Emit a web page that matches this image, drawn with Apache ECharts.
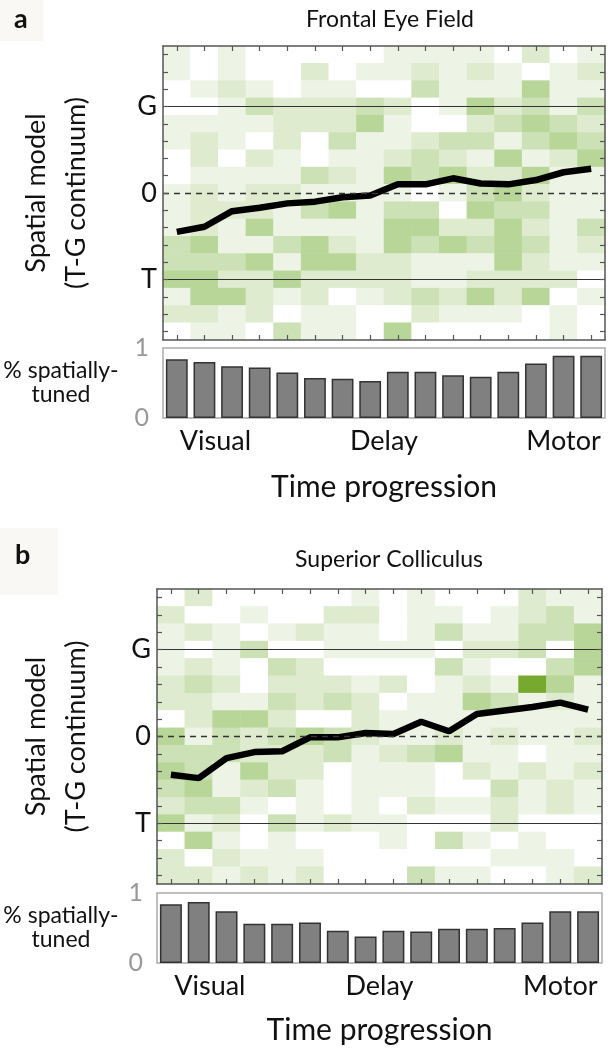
<!DOCTYPE html>
<html><head><meta charset="utf-8">
<script src="https://cdn.jsdelivr.net/npm/echarts@6/dist/echarts.min.js"></script>
<style>html,body{margin:0;padding:0;background:#fff}#c{width:608px;height:1048px}</style>
</head><body><div id="c"></div>
<script>
// ---------- data ----------
const timeBins = ['1','2','3','4','5','6','7','8','9','10','11','12','13','14','15','16'];
// model rows, bottom (near T side) to top (G side); G = 1, 0 = 0, T = -1
const rowValues = ['-1.6','-1.4','-1.2','-1.0','-0.8','-0.6','-0.4','-0.2','0.0','0.2','0.4','0.6','0.8','1.0','1.2','1.4','1.6'];
const rowTickLabels = { '1.0': 'G', '0.0': '0', '-1.0': 'T' };
const phaseLabels = ['Visual', 'Delay', 'Motor'];
const phasePositions = [1.9, 8, 14.5];
const panelTitles = ['Frontal Eye Field', 'Superior Colliculus'];
const panelLetters = ['a', 'b'];

// heatmap intensities (0 = white ... 6 = darkest green), rows listed from TOP to BOTTOM
const heatA = [
  [1,0,1,0,0,0,0,0, 1,1,1,1,0,2,0,1],
  [1,0,1,0,0,2,0,1, 1,2,1,2,1,0,1,2],
  [0,1,2,1,0,1,1,0, 0,3,1,1,1,4,1,1],
  [0,0,1,3,2,2,2,3, 2,0,1,4,2,3,1,3],
  [1,1,1,1,2,2,2,4, 1,0,0,2,3,4,3,2],
  [1,2,1,0,2,0,3,1, 1,2,3,3,1,3,4,3],
  [0,2,0,2,1,0,1,1, 2,3,2,1,4,1,2,4],
  [0,1,1,1,1,3,2,1, 4,3,4,2,2,4,1,1],
  [1,2,1,2,2,1,1,1, 1,0,1,3,4,2,1,1],
  [1,2,2,2,1,3,4,1, 3,3,0,4,3,3,1,1],
  [1,2,1,4,1,1,1,1, 4,4,2,2,4,2,1,3],
  [3,4,1,1,3,4,2,1, 4,3,4,3,4,3,1,2],
  [3,3,3,4,1,4,4,2, 2,1,1,1,4,2,1,1],
  [4,4,2,2,4,2,2,2, 2,1,1,2,2,2,2,0],
  [1,4,4,2,1,2,0,1, 2,3,2,4,2,4,0,1],
  [2,2,1,2,0,1,1,0, 0,2,1,1,1,0,1,0],
  [0,1,1,0,3,1,1,0, 4,0,0,0,0,0,1,0]
];
const heatB = [
  [0,2,0,0,0,0,0,1, 0,1,0,0,0,2,1,1],
  [2,0,0,1,0,0,2,2, 0,1,1,0,1,2,3,1],
  [1,2,1,0,1,2,1,1, 0,1,3,1,1,3,3,4],
  [1,0,1,3,0,0,1,1, 1,1,0,2,2,3,0,4],
  [1,2,1,0,3,2,0,0, 0,0,3,1,0,0,3,4],
  [2,3,2,0,2,2,2,1, 2,0,1,2,1,6,4,1],
  [2,2,1,1,3,2,3,2, 0,1,1,4,3,1,2,1],
  [0,2,4,4,2,0,0,2, 1,1,1,1,1,1,1,1],
  [4,1,3,2,3,4,3,2, 1,1,2,1,2,1,1,2],
  [3,3,3,2,2,2,3,1, 2,3,4,1,1,0,1,1],
  [4,3,1,4,2,2,0,1, 1,1,0,2,1,2,1,2],
  [3,4,1,2,3,1,0,1, 1,1,0,0,3,1,2,1],
  [2,3,3,1,0,1,0,1, 0,2,1,1,2,1,2,1],
  [4,1,2,0,3,1,2,1, 1,0,0,0,2,0,0,0],
  [0,4,1,0,1,0,0,0, 1,0,3,1,0,1,0,0],
  [2,0,2,1,1,1,0,0, 0,0,0,0,1,1,1,0],
  [2,2,1,2,1,2,0,0, 0,3,1,1,0,0,1,2]
];
// population fit along T-G continuum (T = -1, G = 1)
const lineA = [-0.45,-0.39,-0.21,-0.17,-0.12,-0.10,-0.05,-0.03,0.10,0.10,0.17,0.11,0.10,0.15,0.24,0.28];
const lineB = [-0.44,-0.48,-0.25,-0.18,-0.17,-0.01,-0.01,0.04,0.03,0.17,0.06,0.26,0.30,0.34,0.39,0.31];
// fraction spatially tuned
const barsA = [0.84,0.80,0.74,0.72,0.65,0.57,0.56,0.53,0.66,0.66,0.61,0.59,0.66,0.78,0.89,0.89];
const barsB = [0.84,0.87,0.74,0.56,0.56,0.58,0.46,0.38,0.46,0.45,0.49,0.49,0.50,0.58,0.74,0.74];
const gLines = [1, 0, -1];

// ---------- chart ----------
const FONT = 'Lato';
function toCells(m) {
  const out = [];
  const n = m.length;
  m.forEach((row, r) => row.forEach((v, c) => out.push([c, n - 1 - r, v])));
  return out;
}
const grids = [
  { left: 163, top: 46, width: 442, height: 294 },
  { left: 163, top: 348, width: 442, height: 70, show: true, borderColor: '#aaaaaa', borderWidth: 1.5 },
  { left: 157, top: 589, width: 445, height: 295 },
  { left: 157, top: 893, width: 445, height: 70, show: true, borderColor: '#aaaaaa', borderWidth: 1.5 }
];
const frame = { show: true, onZero: false, lineStyle: { color: '#555', width: 1.5 } };
const inTick = { show: true, inside: true, alignWithLabel: true, interval: 0, length: 5, lineStyle: { color: '#555', width: 1.2 } };

const xAxis = [], yAxis = [], series = [];
[0, 1].forEach(p => {
  const hg = p * 2, bg = p * 2 + 1;
  const heat = p === 0 ? heatA : heatB;
  const line = p === 0 ? lineA : lineB;
  const bars = p === 0 ? barsA : barsB;
  const xi = xAxis.length, yi = yAxis.length;
  // heatmap x (bottom) and top tick axis
  xAxis.push({ type: 'category', gridIndex: hg, data: timeBins, position: 'bottom', z: 10,
    axisLine: frame, axisTick: inTick, axisLabel: { show: false }, splitLine: { show: false } });
  xAxis.push({ type: 'category', gridIndex: hg, data: timeBins, position: 'top', z: 10,
    axisLine: frame, axisTick: inTick, axisLabel: { show: false } });
  // bar x
  xAxis.push({ type: 'category', gridIndex: bg, data: timeBins, position: 'bottom',
    axisLine: { show: false }, axisTick: { show: false }, axisLabel: { show: false } });
  // phase labels
  xAxis.push({ type: 'value', gridIndex: bg, min: 0, max: 16, position: 'bottom',
    axisLine: { show: false, onZero: false }, axisTick: { show: false }, splitLine: { show: false },
    axisLabel: { customValues: phasePositions, formatter: v => phaseLabels[phasePositions.indexOf(v)],
      fontFamily: FONT, fontSize: 27, color: '#111', margin: 10 },
    name: 'Time progression', nameLocation: 'middle', nameGap: p === 0 ? 54 : 52,
    nameTextStyle: { fontFamily: FONT, fontSize: 30, color: '#111' } });

  yAxis.push({ type: 'category', gridIndex: hg, data: rowValues, position: 'left', z: 10,
    axisLine: frame, axisTick: inTick,
    axisLabel: { interval: 0, formatter: v => rowTickLabels[v] || '', fontFamily: FONT, fontSize: 27, color: '#111', margin: 6 },
    name: 'Spatial model\n(T-G continuum)', nameLocation: 'middle', nameRotate: 90, nameGap: p === 0 ? 67 : 61,
    nameTextStyle: { fontFamily: FONT, fontSize: 27, lineHeight: 40, color: '#111' } });
  yAxis.push({ type: 'category', gridIndex: hg, data: rowValues, position: 'right', z: 10,
    axisLine: frame, axisTick: inTick, axisLabel: { show: false } });
  yAxis.push({ type: 'value', gridIndex: hg, min: -1.7, max: 1.7, show: false, axisLine: { onZero: false } });
  yAxis.push({ type: 'value', gridIndex: bg, min: 0, max: 1, interval: 1, position: 'left',
    axisLine: { show: false, onZero: false }, axisTick: { show: false }, splitLine: { show: false },
    axisLabel: { fontFamily: FONT, fontSize: 25, color: '#999', margin: 14 },
    name: '% spatially-\ntuned', nameLocation: 'middle', nameRotate: 0, nameGap: p === 0 ? 102 : 96,
    nameTextStyle: { fontFamily: FONT, fontSize: 23, lineHeight: 24, color: '#111', align: 'center', verticalAlign: 'middle', padding: [16, 0, 0, 0] } });

  series.push({ type: 'heatmap', xAxisIndex: xi, yAxisIndex: yi, data: toCells(heat), z: 1,
    itemStyle: { borderWidth: 0 }, emphasis: { disabled: true }, silent: true });
  series.push({ type: 'line', xAxisIndex: xi, yAxisIndex: yi + 2, data: line, z: 4,
    symbol: 'none', lineStyle: { color: '#000', width: 6.5 }, silent: true,
    markLine: { silent: true, symbol: 'none', label: { show: false },
      data: gLines.map(g => ({ yAxis: g, lineStyle: { color: '#333', width: g === 0 ? 1.4 : 1.2, type: g === 0 ? [6, 5] : 'solid' } })) } });
  series.push({ type: 'bar', xAxisIndex: xi + 2, yAxisIndex: yi + 3, data: bars, barCategoryGap: '21%',
    itemStyle: { color: '#808080', borderColor: '#333', borderWidth: 1.5 }, silent: true });
});

const option = {
  animation: false,
  backgroundColor: '#fff',
  textStyle: { fontFamily: FONT },
  title: [
    { text: panelTitles[0], left: 385, top: 3, textAlign: 'center', textStyle: { fontFamily: FONT, fontSize: 23, fontWeight: 'normal', color: '#111' } },
    { text: panelTitles[1], left: 384, top: 543, textAlign: 'center', textStyle: { fontFamily: FONT, fontSize: 23, fontWeight: 'normal', color: '#111' } },
    { text: panelLetters[0], left: 0, top: 0, padding: [6, 16, 8, 14], backgroundColor: '#faf8f4', textStyle: { fontFamily: FONT, fontSize: 27, fontWeight: 'bold', color: '#111' } },
    { text: panelLetters[1], left: 0, top: 528, padding: [14, 28, 26, 15], backgroundColor: '#faf8f4', textStyle: { fontFamily: FONT, fontSize: 27, fontWeight: 'bold', color: '#111' } }
  ],
  grid: grids,
  xAxis, yAxis,
  visualMap: {
    show: false, type: 'continuous', min: 0, max: 6, seriesIndex: [0, 3],
    inRange: { color: ['#ffffff', '#edf4e5', '#deebcf', '#cce1b5', '#b8d698', '#9ac46a', '#76a92d'] }
  },
  series
};
const chart = echarts.init(document.getElementById('c'), null, { renderer: 'canvas' });
chart.setOption(option);
</script></body></html>
